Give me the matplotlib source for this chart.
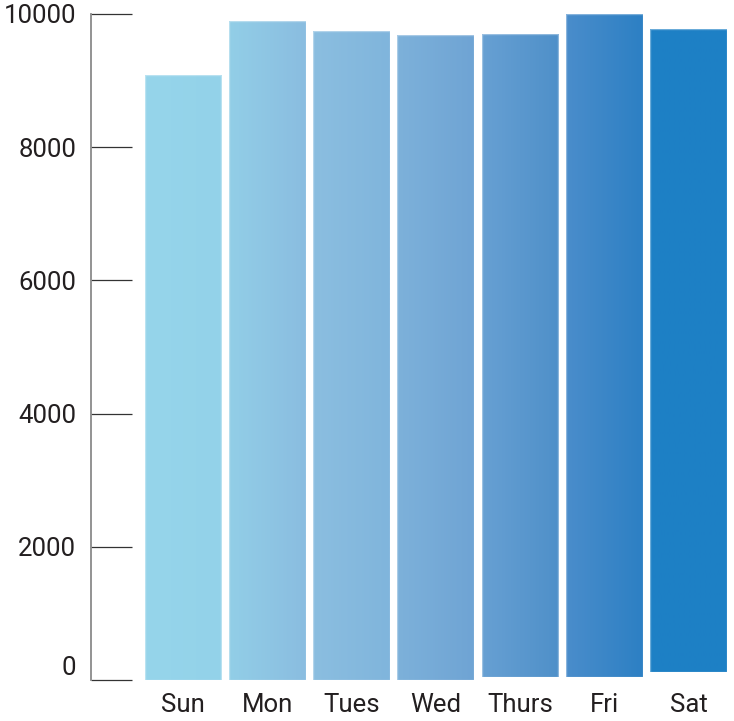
import numpy as np
import matplotlib
matplotlib.use("Agg")
import matplotlib.pyplot as plt
from matplotlib.colors import LinearSegmentedColormap

days = ["Sun", "Mon", "Tues", "Wed", "Thurs", "Fri", "Sat"]
visits = [9090, 9890, 9745, 9680, 9655, 9955, 9665]
bar_base = [0, 0, 0, 0, 50, 50, 115]
y_ticks = [0, 2000, 4000, 6000, 8000, 10000]

# left/right shade of each bar
left_cols = ["#96d5eb", "#92cee7", "#8bbee0", "#7db1da", "#67a0d3", "#4a8dcb", "#1e80c5"]
right_cols = ["#93d2e9", "#8abde0", "#80b5dc", "#6fa4d4", "#4f90c9", "#2d80c4", "#1d80c6"]

plt.rcParams["font.family"] = ["Roboto", "DejaVu Sans"]

fig = plt.figure(figsize=(7.34, 7.21), dpi=100)
ax = fig.add_axes([90.7 / 734, 1 - 680 / 721, (727 - 90.7) / 734, 666 / 721])

x = np.arange(len(days))
width = 0.91
bars = ax.bar(x, visits, width=width, bottom=bar_base, color=left_cols,
              linewidth=0, zorder=2, clip_on=False)

grad = np.linspace(0, 1, 64).reshape(1, -1)
for i, patch in enumerate(bars):
    cmap = LinearSegmentedColormap.from_list("g%d" % i, [left_cols[i], right_cols[i]])
    x0 = x[i] - width / 2
    im = ax.imshow(grad, extent=(x0, x0 + width, bar_base[i], bar_base[i] + visits[i]),
                   aspect="auto", cmap=cmap, zorder=3, interpolation="bilinear")
    im.set_clip_path(patch)
    im.set_clip_on(True)

# faint light rim around each bar
ax.bar(x, visits, width=width, bottom=bar_base, fill=False,
       edgecolor=(1, 1, 1, 0.35), linewidth=1.0, zorder=4, clip_on=False)

ax.set_xlim(-1.095, 6.455)
ax.set_ylim(0, 10000)

for s in ["top", "right", "bottom"]:
    ax.spines[s].set_visible(False)
ax.spines["left"].set_color("#8a8a8a")
ax.spines["left"].set_linewidth(1.3)
ax.spines["left"].set_bounds(0, 10000)

ax.set_yticks(y_ticks)
ax.set_yticklabels([str(v) for v in y_ticks])
ax.tick_params(axis="y", direction="in", length=29.5, width=0.9, color="#333333",
               pad=10.5, labelsize=18.5, labelcolor="#231f20")
ax.get_yticklabels()[0].set_verticalalignment("bottom")

ax.set_xticks(x)
ax.set_xticklabels(days)
ax.tick_params(axis="x", length=0, pad=9, labelsize=18.5, labelcolor="#231f20")

fig.savefig("out.png", dpi=100)
